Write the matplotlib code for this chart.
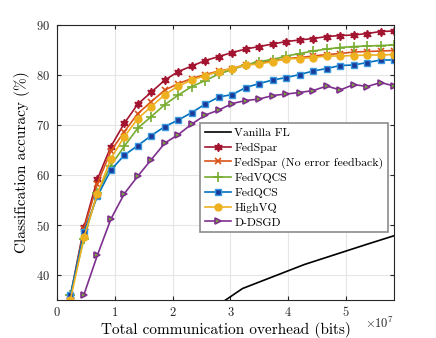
import matplotlib
matplotlib.use('Agg')
import matplotlib.pyplot as plt
from matplotlib.ticker import FuncFormatter

plt.rcParams['font.family'] = 'serif'
plt.rcParams['font.serif'] = ['cmr10']
plt.rcParams['mathtext.fontset'] = 'cm'
plt.rcParams['axes.formatter.use_mathtext'] = True
plt.rcParams['axes.unicode_minus'] = False

# Total communication overhead (bits) per round
bits = [0.233e7, 0.467e7, 0.700e7, 0.933e7, 1.167e7, 1.400e7, 1.633e7, 1.867e7,
        2.100e7, 2.333e7, 2.567e7, 2.800e7, 3.033e7, 3.267e7, 3.500e7, 3.733e7,
        3.967e7, 4.200e7, 4.433e7, 4.667e7, 4.900e7, 5.133e7, 5.367e7, 5.600e7,
        5.833e7]
bits_vanilla = [2.14e7, 3.21e7, 4.28e7, 5.35e7, 6.42e7]

acc_vanilla = [28.9, 37.3, 42.1, 46.1, 50.0]
acc_fedspar = [35.8, 49.6, 59.2, 65.7, 70.4, 74.2, 76.6, 79.0, 80.7, 81.8, 82.9, 83.7,
               84.5, 85.2, 85.7, 86.2, 86.7, 87.0, 87.3, 87.7, 87.9, 88.0, 88.3, 88.7, 88.8]
acc_fedspar_noef = [35.5, 49.2, 58.3, 64.8, 68.7, 72.3, 74.7, 77.0, 78.3, 79.3, 80.1, 80.8,
                    81.3, 82.1, 82.5, 82.8, 83.3, 83.5, 83.8, 84.1, 84.3, 84.6, 84.7, 84.8, 84.9]
acc_fedvqcs = [36.0, 47.3, 56.5, 61.9, 65.8, 69.4, 71.7, 74.1, 76.0, 77.7, 78.9, 80.2,
               81.1, 82.0, 82.7, 83.1, 83.8, 84.3, 84.8, 85.2, 85.5, 85.7, 85.8, 85.9, 86.0]
acc_fedqcs = [36.0, 48.6, 55.8, 61.0, 64.0, 65.9, 67.9, 69.7, 71.0, 72.5, 74.2, 75.6,
              76.1, 77.5, 78.3, 79.0, 79.5, 80.1, 80.8, 81.3, 81.9, 82.0, 82.5, 83.0, 83.0]
acc_highvq = [35.1, 47.6, 56.3, 63.3, 67.7, 71.3, 73.7, 76.1, 77.8, 79.0, 79.9, 80.7,
              81.3, 82.0, 82.2, 82.7, 83.2, 83.3, 83.5, 83.8, 83.8, 83.9, 84.0, 84.0, 84.1]
acc_ddsgd = [36.1, 44.0, 51.2, 56.3, 59.8, 63.1, 66.4, 68.1, 70.2, 72.0, 73.0, 74.3,
             74.9, 75.2, 75.9, 76.2, 76.5, 76.9, 77.8, 77.0, 78.1, 77.7, 78.5, 77.8]

fig = plt.figure(figsize=(4.36, 3.38), dpi=100)
ax = fig.add_axes([0.1307, 0.1124, 0.7733, 0.8136])

lw = 1.2
ax.plot(bits_vanilla, acc_vanilla, color='black', lw=lw, label='Vanilla FL')
ax.plot(bits, acc_fedspar, color='#A2142F', lw=lw, marker=(6, 1, 0), ms=6,
        mfc='#A2142F', mec='#A2142F', label='FedSpar')
ax.plot(bits, acc_fedspar_noef, color='#D95319', lw=lw, marker='x', ms=5,
        mew=1.2, label='FedSpar (No error feedback)')
ax.plot(bits, acc_fedvqcs, color='#77AC30', lw=lw, marker='+', ms=7,
        mew=1.2, label='FedVQCS')
ax.plot(bits, acc_fedqcs, color='#0072BD', lw=lw, marker='s', ms=5,
        mfc='#1A3A9A', mec='#3A9AE0', mew=1.0, label='FedQCS')
ax.plot(bits, acc_highvq, color='#EDB120', lw=lw, marker='o', ms=5,
        mfc='#EDB120', mec='#EDB120', label='HighVQ')
ax.plot(bits[1:], acc_ddsgd, color='#7E2F8E', lw=lw, marker='>', ms=5,
        mfc='#77AC30', mec='#7E2F8E', mew=1.2, label='D-DSGD')

ax.set_xlim(0, 5.833e7)
ax.set_ylim(35, 90)
ax.set_xticks([0, 1e7, 2e7, 3e7, 4e7, 5e7])
ax.xaxis.set_major_formatter(FuncFormatter(lambda v, p: '%g' % (v / 1e7)))
ax.set_yticks([40, 50, 60, 70, 80, 90])
ax.grid(True, color='#e6e6e6', lw=0.8)
ax.set_axisbelow(True)
ax.tick_params(direction='in', top=True, right=True, labelsize=9, colors='#262626',
               length=3, pad=5)
for s in ax.spines.values():
    s.set_color('#262626')
    s.set_linewidth(0.8)

# exponent label like MATLAB
ax.text(1.0, -0.057, r'$\times10^{7}$', transform=ax.transAxes, ha='right',
        va='top', fontsize=9, color='#262626')

ax.set_xlabel('Total communication overhead (bits)', fontsize=11, labelpad=2)
ax.set_ylabel('Classification accuracy (%)', fontsize=11)

leg = ax.legend(loc='upper right', bbox_to_anchor=(0.982, 0.644), fontsize=8.5,
                fancybox=False, framealpha=1, edgecolor='#8c8c8c',
                borderpad=0.4, labelspacing=0.38, handlelength=2.2,
                handletextpad=0.3, borderaxespad=0)
leg.get_frame().set_linewidth(1.2)

fig.savefig('out.png', dpi=100)
